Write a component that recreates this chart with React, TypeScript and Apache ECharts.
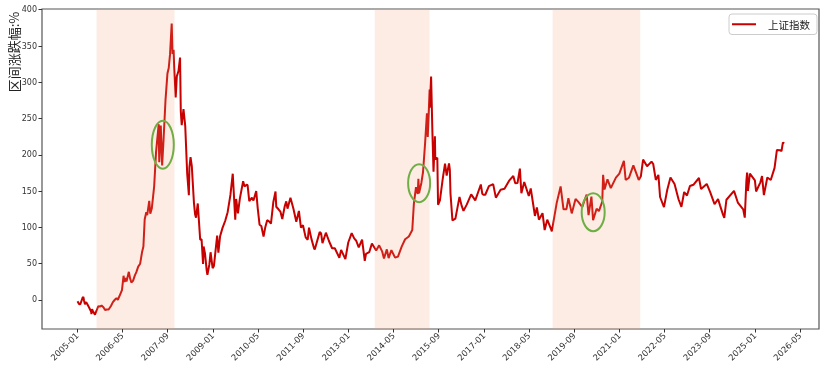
import React, { useEffect, useRef } from 'react';
import * as echarts from 'echarts';

// 上证指数 区间涨跌幅 (%)
const SSE_2005_2008: [string, number][] = [
  ['2005-01-04', -1.9], ['2005-01-12', -3.7], ['2005-01-24', -6.0], ['2005-02-04', -5.5], ['2005-02-28', 3.2],
  ['2005-03-08', 4.2], ['2005-03-15', -0.7], ['2005-03-25', -6.0], ['2005-04-08', -2.9], ['2005-04-20', -6.0],
  ['2005-05-10', -10.8], ['2005-05-31', -16.3], ['2005-06-03', -19.5], ['2005-06-09', -12.6], ['2005-06-20', -15.5],
  ['2005-07-11', -20.2], ['2005-07-29', -14.5], ['2005-08-16', -8.4], ['2005-09-01', -9.2], ['2005-09-20', -7.6],
  ['2005-10-10', -10.0], ['2005-10-28', -13.9], ['2005-11-15', -13.1], ['2005-12-05', -13.1], ['2005-12-30', -8.3],
  ['2006-01-20', -2.9], ['2006-02-10', 0.3], ['2006-02-28', 2.6], ['2006-03-15', 0.3], ['2006-04-10', 8.2],
  ['2006-04-28', 13.7], ['2006-05-15', 33.4], ['2006-05-25', 24.8], ['2006-06-05', 30.3], ['2006-06-16', 25.5],
  ['2006-07-11', 38.8], ['2006-07-25', 29.5], ['2006-08-07', 24.0], ['2006-08-25', 26.3], ['2006-09-15', 34.2],
  ['2006-09-30', 38.3], ['2006-10-20', 46.0], ['2006-11-10', 50.0], ['2006-11-30', 65.7], ['2006-12-15', 73.7],
  ['2006-12-29', 111.2], ['2007-01-15', 121.0], ['2007-01-25', 117.0], ['2007-02-16', 136.7], ['2007-02-27', 118.8],
  ['2007-03-16', 126.6], ['2007-04-10', 156.6], ['2007-04-30', 203.3], ['2007-05-29', 242.3], ['2007-05-30', 220.0],
  ['2007-06-04', 189.8], ['2007-06-20', 240.3], ['2007-07-05', 185.4], ['2007-07-20', 220.4], ['2007-08-10', 275.0],
  ['2007-08-31', 312.0], ['2007-09-14', 319.7], ['2007-09-28', 338.4], ['2007-10-16', 381.0], ['2007-10-25', 339.0],
  ['2007-11-05', 344.9], ['2007-11-12', 319.7], ['2007-11-28', 279.2], ['2007-12-10', 308.2], ['2007-12-28', 315.5],
  ['2008-01-14', 334.0], ['2008-01-22', 260.0], ['2008-02-01', 241.0], ['2008-02-20', 263.0], ['2008-03-10', 239.5],
  ['2008-03-31', 174.1], ['2008-04-18', 144.3], ['2008-04-24', 182.9], ['2008-05-06', 197.0], ['2008-05-20', 184.0],
  ['2008-06-12', 133.5], ['2008-06-24', 118.0], ['2008-07-04', 113.4], ['2008-07-23', 133.0], ['2008-08-18', 83.1],
  ['2008-09-02', 83.6], ['2008-09-18', 49.6], ['2008-09-24', 73.8], ['2008-10-09', 63.8], ['2008-10-28', 39.8],
  ['2008-11-04', 34.7], ['2008-11-25', 49.0], ['2008-12-08', 65.8], ['2008-12-30', 43.8],
];

const SSE_2009_2013: [string, number][] = [
  ['2009-01-13', 46.9], ['2009-02-17', 88.6], ['2009-03-02', 65.3], ['2009-03-20', 87.4], ['2009-04-15', 99.0],
  ['2009-05-15', 109.2], ['2009-06-10', 121.0], ['2009-07-10', 144.8], ['2009-08-04', 174.0], ['2009-08-31', 110.6],
  ['2009-09-10', 139.2], ['2009-09-29', 119.4], ['2009-10-20', 140.0], ['2009-11-24', 163.6], ['2009-12-08', 156.6],
  ['2009-12-31', 158.7], ['2010-01-11', 158.4], ['2010-01-29', 136.1], ['2010-02-26', 141.0], ['2010-03-15', 137.0],
  ['2010-04-14', 150.0], ['2010-04-30', 126.6], ['2010-05-20', 103.7], ['2010-06-08', 102.0], ['2010-07-02', 87.4],
  ['2010-07-20', 99.8], ['2010-08-10', 110.0], ['2010-08-30', 108.4], ['2010-09-20', 105.3], ['2010-10-15', 134.6],
  ['2010-11-08', 149.5], ['2010-11-16', 128.5], ['2010-12-10', 125.0], ['2010-12-31', 121.7], ['2011-01-20', 111.6],
  ['2011-02-15', 129.0], ['2011-03-04', 136.0], ['2011-03-17', 125.8], ['2011-04-18', 140.8], ['2011-05-20', 125.8],
  ['2011-06-20', 107.7], ['2011-07-18', 122.7], ['2011-08-09', 99.8], ['2011-08-31', 103.0], ['2011-09-29', 86.3],
  ['2011-10-21', 83.0], ['2011-11-04', 99.6], ['2011-11-30', 84.2], ['2011-12-28', 71.3], ['2012-01-05', 69.6],
  ['2012-02-27', 93.5], ['2012-03-13', 92.0], ['2012-03-28', 78.4], ['2012-05-04', 92.7], ['2012-06-05', 81.6],
  ['2012-07-10', 71.3], ['2012-08-08', 71.3], ['2012-09-26', 58.2], ['2012-10-15', 69.0], ['2012-11-30', 56.3],
  ['2012-12-31', 79.2], ['2013-02-06', 92.2], ['2013-03-05', 84.8], ['2013-03-27', 81.6], ['2013-04-23', 72.4],
  ['2013-05-29', 83.2], ['2013-06-27', 54.0], ['2013-07-10', 63.4], ['2013-08-14', 65.8], ['2013-09-12', 77.7],
  ['2013-10-28', 68.2], ['2013-11-29', 75.3], ['2013-12-31', 67.0],
];

const SSE_2014_2019: [string, number][] = [
  ['2014-01-20', 57.2], ['2014-02-20', 69.8], ['2014-03-11', 57.7], ['2014-04-10', 68.6], ['2014-05-20', 58.3],
  ['2014-06-20', 59.8], ['2014-07-31', 73.9], ['2014-09-05', 83.7], ['2014-10-15', 87.4], ['2014-11-21', 96.4],
  ['2014-12-08', 132.1], ['2014-12-31', 155.4], ['2015-01-19', 146.0], ['2015-01-26', 167.1], ['2015-02-02', 147.0],
  ['2015-02-27', 161.3], ['2015-03-17', 176.4], ['2015-04-08', 215.4], ['2015-04-28', 257.4], ['2015-05-07', 224.7],
  ['2015-05-27', 290.1], ['2015-05-28', 264.8], ['2015-06-12', 307.9], ['2015-06-26', 231.0], ['2015-07-08', 176.9],
  ['2015-07-23', 225.6], ['2015-07-27', 194.1], ['2015-08-18', 196.0], ['2015-08-26', 131.1], ['2015-09-15', 137.3],
  ['2015-10-16', 167.7], ['2015-11-09', 188.0], ['2015-11-27', 171.3], ['2015-12-22', 188.3], ['2015-12-31', 179.4],
  ['2016-01-07', 146.7], ['2016-01-28', 109.7], ['2016-02-29', 112.2], ['2016-04-13', 142.1], ['2016-05-06', 130.0],
  ['2016-05-26', 122.8], ['2016-06-30', 131.4], ['2016-08-17', 145.6], ['2016-09-30', 137.3], ['2016-11-29', 159.1],
  ['2016-12-15', 146.1], ['2016-12-30', 145.0], ['2017-01-16', 145.0], ['2017-02-24', 156.9], ['2017-04-11', 159.7],
  ['2017-05-10', 141.0], ['2017-06-30', 152.0], ['2017-08-11', 153.3], ['2017-09-30', 164.4], ['2017-11-14', 170.8],
  ['2017-12-05', 160.8], ['2017-12-29', 161.1], ['2018-01-24', 181.1], ['2018-02-09', 147.0], ['2018-03-12', 162.6],
  ['2018-04-30', 143.3], ['2018-05-21', 153.8], ['2018-06-19', 129.5], ['2018-07-05', 115.8], ['2018-07-26', 127.6],
  ['2018-08-17', 110.7], ['2018-09-25', 119.6], ['2018-10-18', 96.3], ['2018-11-15', 110.7], ['2018-12-28', 96.9],
  ['2019-01-03', 94.6], ['2019-02-25', 133.8], ['2019-04-08', 156.4], ['2019-05-09', 125.0], ['2019-06-10', 125.2],
  ['2019-07-01', 140.4], ['2019-08-06', 119.3], ['2019-09-16', 139.3], ['2019-10-16', 135.1], ['2019-11-28', 128.1],
  ['2019-12-31', 140.8],
];

const SSE_2020_2025: [string, number][] = [
  ['2020-01-14', 145.2], ['2020-02-03', 116.8], ['2020-03-05', 142.5], ['2020-03-23', 110.0], ['2020-04-30', 125.8],
  ['2020-05-25', 122.4], ['2020-06-30', 135.7], ['2020-07-09', 172.4], ['2020-07-24', 152.3], ['2020-08-25', 166.3],
  ['2020-09-30', 154.1], ['2020-11-24', 168.6], ['2020-12-31', 174.2], ['2021-02-18', 191.8], ['2021-03-09', 165.3],
  ['2021-04-14', 168.5], ['2021-05-31', 185.4], ['2021-07-28', 165.5], ['2021-08-20', 170.6], ['2021-09-13', 193.4],
  ['2021-10-26', 184.3], ['2021-12-13', 190.6], ['2021-12-31', 187.4], ['2022-01-28', 165.4], ['2022-02-25', 172.4],
  ['2022-03-15', 141.9], ['2022-04-26', 127.9], ['2022-05-31', 151.6], ['2022-07-05', 168.8], ['2022-08-18', 159.8],
  ['2022-09-30', 138.8], ['2022-10-31', 128.4], ['2022-11-30', 148.8], ['2022-12-30', 143.9], ['2023-01-31', 157.1],
  ['2023-03-09', 158.7], ['2023-05-08', 168.1], ['2023-05-31', 153.0], ['2023-07-31', 159.9], ['2023-09-05', 149.0],
  ['2023-10-23', 132.0], ['2023-11-30', 139.2], ['2023-12-21', 130.4], ['2024-01-22', 117.6], ['2024-02-05', 113.3],
  ['2024-02-28', 138.1], ['2024-05-20', 150.4], ['2024-06-30', 134.3], ['2024-08-27', 124.9], ['2024-09-13', 113.5],
  ['2024-09-30', 163.4], ['2024-10-08', 175.5], ['2024-10-17', 150.2], ['2024-11-07', 174.0], ['2024-12-31', 164.7],
  ['2025-01-13', 149.5], ['2025-02-28', 162.1], ['2025-03-18', 170.8], ['2025-04-07', 144.5], ['2025-05-14', 168.7],
  ['2025-06-20', 165.3], ['2025-07-31', 182.1], ['2025-08-25', 206.6], ['2025-09-30', 206.5], ['2025-10-14', 205.2],
  ['2025-10-29', 217.1], ['2025-11-12', 215.8],
];

const SERIES_NAME = '上证指数';
const Y_NAME = '区间涨跌幅:%';

const SHADE_STARTS = ['2005-07-28', '2013-10-12', '2019-01-12'];
const SHADE_ENDS = ['2007-11-15', '2015-05-26', '2021-08-13'];

const MARK_DATES = ['2007-07-12', '2015-02-03', '2020-03-24'];
const MARK_VALUES = [214, 161, 121];

const X_TICKS = ['2005-01', '2006-05', '2007-09', '2009-01', '2010-05', '2011-09', '2013-01', '2014-05',
  '2015-09', '2017-01', '2018-05', '2019-09', '2021-01', '2022-05', '2023-09', '2025-01', '2026-05'];
const Y_TICKS = [0, 50, 100, 150, 200, 250, 300, 350, 400];

const X_MIN = '2003-12-18';
const X_MAX = '2026-11-22';
const Y_MIN = -40;
const Y_MAX = 401;

const ts = (s: string) => {
  const [y, m, d] = s.split('-').map(Number);
  return Date.UTC(y, m - 1, d || 1);
};
const fmt = (v: number) => {
  const d = new Date(v);
  const m = d.getUTCMonth() + 1;
  return `${d.getUTCFullYear()}-${m < 10 ? '0' + m : m}`;
};

const ELLIPSE_RX = [11, 11, 11.5];
const ELLIPSE_RY = [24, 19, 19];

export default function App() {
  const ref = useRef<HTMLDivElement>(null);
  useEffect(() => {
    const chart = echarts.init(ref.current!, null, { renderer: 'svg' });
    const line = [...SSE_2005_2008, ...SSE_2009_2013, ...SSE_2014_2019, ...SSE_2020_2025].map(
      ([d, v]) => [ts(d), v]
    );
    const shades = SHADE_STARTS.map((s, i) => [ts(s), ts(SHADE_ENDS[i]), 0]);
    const marks = MARK_DATES.map((d, i) => [ts(d), MARK_VALUES[i]]);
    const xTickVals = X_TICKS.map(ts);
    const tickFont = 'DejaVu Sans';

    const option: any = {
      animation: false,
      grid: {
        left: 42, right: 7, top: 9, bottom: 41, show: true,
        borderColor: '#555', borderWidth: 1.2, backgroundColor: 'transparent',
      },
      legend: {
        data: [{ name: SERIES_NAME, icon: 'rect' }],
        right: 9, top: 14, itemWidth: 24, itemHeight: 2,
        borderColor: '#ccc', borderWidth: 1, borderRadius: 3,
        padding: [5, 7, 5, 3], backgroundColor: '#fff',
        textStyle: { fontSize: 10.5, color: '#222', fontFamily: 'Noto Sans CJK SC', padding: [0, 0, 0, 7] },
      },
      xAxis: {
        type: 'value',
        min: ts(X_MIN), max: ts(X_MAX),
        splitLine: { show: false },
        axisLine: { show: false, onZero: false },
        axisTick: { show: true, customValues: xTickVals, length: 3.5, lineStyle: { color: '#333' } },
        axisLabel: {
          customValues: xTickVals, rotate: 45, margin: 5, fontSize: 8.5,
          fontFamily: tickFont, color: '#333', formatter: (v: number) => fmt(v),
          hideOverlap: false, showMinLabel: true, showMaxLabel: true,
        },
      },
      yAxis: {
        type: 'value',
        min: Y_MIN, max: Y_MAX,
        splitLine: { show: false },
        axisLine: { show: false, onZero: false },
        axisTick: { show: true, customValues: Y_TICKS, length: 3.5, lineStyle: { color: '#333' } },
        axisLabel: { customValues: Y_TICKS, margin: 5, fontSize: 8, fontFamily: tickFont, color: '#333' },
      },
      graphic: [
        {
          type: 'text', x: 13, y: 52, rotation: Math.PI / 2,
          style: {
            text: Y_NAME, fontSize: 13, fontFamily: 'Noto Sans CJK SC', fill: '#222',
            align: 'center', verticalAlign: 'middle',
          },
        },
      ],
      series: [
        {
          name: SERIES_NAME, type: 'line', data: line, showSymbol: false, symbol: 'none',
          lineStyle: { color: '#c80000', width: 2 }, itemStyle: { color: '#c80000' },
          z: 2,
        },
        {
          type: 'custom', z: 3, silent: true, data: shades,
          encode: { x: [0, 1], y: 2 },
          renderItem: (params: any, api: any) => {
            const p1 = api.coord([api.value(0), Y_MAX]);
            const p2 = api.coord([api.value(1), Y_MIN]);
            return {
              type: 'rect',
              shape: { x: p1[0], y: p1[1], width: p2[0] - p1[0], height: p2[1] - p1[1] },
              style: { fill: 'rgba(240,160,120,0.2)' },
            };
          },
        },
        {
          type: 'custom', z: 4, silent: true, data: marks,
          encode: { x: 0, y: 1 },
          renderItem: (params: any, api: any) => {
            const c = api.coord([api.value(0), api.value(1)]);
            const i = params.dataIndex;
            return {
              type: 'ellipse',
              shape: { cx: c[0], cy: c[1], rx: ELLIPSE_RX[i], ry: ELLIPSE_RY[i] },
              style: { fill: 'none', stroke: '#6fae45', lineWidth: 2 },
            };
          },
        },
      ],
    };
    chart.setOption(option);
    return () => chart.dispose();
  }, []);
  return <div ref={ref} style={{ position: 'fixed', left: 0, top: 0, width: 826, height: 370 }} />;
}
